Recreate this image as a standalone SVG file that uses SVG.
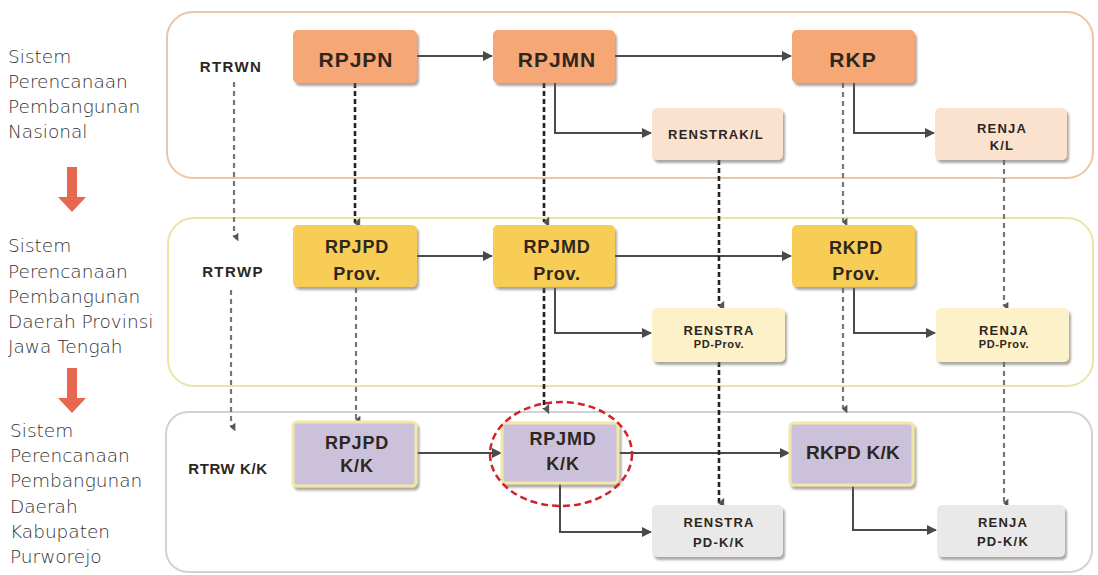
<svg xmlns="http://www.w3.org/2000/svg" width="1098" height="575" viewBox="0 0 1098 575">
<style>
  .lbl { font-family: "DejaVu Sans", Lato, sans-serif; font-weight: 200; font-size: 18.5px; fill: #333; }
  .panel { fill: none; stroke-width: 2; }
  .bx { font-family: "Liberation Sans", Arial, sans-serif; font-weight: bold; fill: #2e2620; text-anchor: middle; }
  .big { font-size: 21px; letter-spacing: 1px; }
  .mid { font-size: 18px; letter-spacing: 0.8px; }
  .sm { font-size: 13px; letter-spacing: 1.2px; }
  .xs { font-size: 11px; letter-spacing: 0.6px; }
  .side { font-size: 15px; letter-spacing: 1.4px; }
  .orange { fill: #F5A876; }
  .peach { fill: #FBE2CF; }
  .gold { fill: #F8CD55; }
  .cream { fill: #FCF1C8; }
  .lav { fill: #CCC1DA; stroke: #F1E8A8; stroke-width: 3; }
  .grey { fill: #E9E9EA; }
  .solid { fill: none; stroke: #4a4a4a; stroke-width: 2; marker-end: url(#tri); }
  .dashD { fill: none; stroke: #222; stroke-width: 2.6; stroke-dasharray: 5 3; marker-end: url(#chev); }
  .dashL { fill: none; stroke: #777; stroke-width: 2.2; stroke-dasharray: 5 4; marker-end: url(#chev); }
  .redarrow { fill: #E8674F; }
</style>
<defs>
  <marker id="tri" viewBox="0 0 10 10" refX="9" refY="5" markerWidth="5" markerHeight="5" orient="auto" markerUnits="strokeWidth">
    <path d="M0,0 L10,5 L0,10 Z" fill="#4a4a4a"/>
  </marker>
  <marker id="chev" viewBox="0 0 10 10" refX="5" refY="8" markerWidth="4" markerHeight="4" orient="auto" markerUnits="strokeWidth">
    <path d="M0,3 L10,3 L5,9 Z" fill="#555"/>
  </marker>
  <filter id="sh" x="-10%" y="-10%" width="125%" height="130%">
    <feDropShadow dx="2" dy="3" stdDeviation="1.2" flood-color="#6b5f55" flood-opacity="0.55"/>
  </filter>
</defs>
<rect width="1098" height="575" fill="#ffffff"/>

<!-- Panels -->
<g id="panels">
  <rect class="panel" x="167" y="12" width="926" height="166" rx="26" stroke="#EBC6A6"/>
  <rect class="panel" x="168" y="218" width="925" height="168" rx="26" stroke="#ECE3A6"/>
  <rect class="panel" x="166" y="412" width="926" height="160" rx="22" stroke="#D3D3D3"/>
</g>

<!-- Left labels and red arrows -->
<g id="label-nasional">
  <text class="lbl" x="8" y="63">Sistem</text>
  <text class="lbl" x="8" y="88">Perencanaan</text>
  <text class="lbl" x="8" y="113">Pembangunan</text>
  <text class="lbl" x="8" y="138">Nasional</text>
</g>
<g id="label-provinsi">
  <text class="lbl" x="8" y="252">Sistem</text>
  <text class="lbl" x="8" y="278">Perencanaan</text>
  <text class="lbl" x="8" y="303">Pembangunan</text>
  <text class="lbl" x="8" y="328">Daerah Provinsi</text>
  <text class="lbl" x="8" y="353">Jawa Tengah</text>
</g>
<g id="label-kabupaten">
  <text class="lbl" x="10" y="437">Sistem</text>
  <text class="lbl" x="10" y="462">Perencanaan</text>
  <text class="lbl" x="10" y="487">Pembangunan</text>
  <text class="lbl" x="10" y="513">Daerah</text>
  <text class="lbl" x="10" y="538">Kabupaten</text>
  <text class="lbl" x="10" y="563">Purworejo</text>
</g>
<g id="red-arrows">
  <path class="redarrow" d="M67,167 H77 V197 H86 L72,212 L58,197 H67 Z"/>
  <path class="redarrow" d="M67,368 H77 V398 H86 L72,413 L58,398 H67 Z"/>
</g>

<!-- Connectors -->
<g id="connectors">
  <path class="solid" d="M417,56 H492"/>
  <path class="solid" d="M615,56 H791"/>
  <path class="solid" d="M555,83 V133 H651"/>
  <path class="solid" d="M854,83 V133 H934"/>
  <path class="solid" d="M417,256 H492"/>
  <path class="solid" d="M615,256 H791"/>
  <path class="solid" d="M555,288 V333 H651"/>
  <path class="solid" d="M854,288 V333 H935"/>
  <path class="solid" d="M416,453 H501"/>
  <path class="solid" d="M618,453 H789"/>
  <path class="solid" d="M560,483 V532 H651"/>
  <path class="solid" d="M853,485 V530 H936"/>

  <path class="dashL" d="M234,82 V237"/>
  <path class="dashL" d="M231,290 V427"/>
  <path class="dashD" d="M355,83 V223"/>
  <path class="dashL" d="M356,288 V420"/>
  <path class="dashD" d="M544,83 V222"/>
  <path class="dashD" d="M544,288 V409"/>
  <path class="dashL" d="M843,83 V222"/>
  <path class="dashL" d="M843,288 V409"/>
  <path class="dashD" d="M719,160 V306"/>
  <path class="dashD" d="M719,362 V503"/>
  <path class="dashL" d="M1004,160 V306"/>
  <path class="dashL" d="M1004,362 V503"/>
</g>

<!-- National level -->
<g id="rtrwn"><text class="bx side" x="231" y="72">RTRWN</text></g>
<g id="rpjpn">
  <rect class="orange" x="293" y="30" width="124" height="53" rx="5" filter="url(#sh)"/>
  <text class="bx big" x="356" y="67">RPJPN</text>
</g>
<g id="rpjmn">
  <rect class="orange" x="493" y="30" width="122" height="53" rx="5" filter="url(#sh)"/>
  <text class="bx big" x="557" y="67">RPJMN</text>
</g>
<g id="rkp">
  <rect class="orange" x="792" y="30" width="123" height="53" rx="5" filter="url(#sh)"/>
  <text class="bx big" x="853" y="67">RKP</text>
</g>
<g id="renstra-kl">
  <rect class="peach" x="652" y="108" width="131" height="52" rx="5" filter="url(#sh)"/>
  <text class="bx sm" x="716" y="139">RENSTRAK/L</text>
</g>
<g id="renja-kl">
  <rect class="peach" x="935" y="108" width="132" height="52" rx="5" filter="url(#sh)"/>
  <text class="bx sm" x="1002" y="133">RENJA</text>
  <text class="bx sm" x="1002" y="150">K/L</text>
</g>

<!-- Province level -->
<g id="rtrwp"><text class="bx side" x="233" y="277">RTRWP</text></g>
<g id="rpjpd-prov">
  <rect class="gold" x="293" y="225" width="124" height="62" rx="5" filter="url(#sh)"/>
  <text class="bx mid" x="357" y="253">RPJPD</text>
  <text class="bx mid" x="357" y="280">Prov.</text>
</g>
<g id="rpjmd-prov">
  <rect class="gold" x="493" y="225" width="122" height="62" rx="5" filter="url(#sh)"/>
  <text class="bx mid" x="557" y="253">RPJMD</text>
  <text class="bx mid" x="557" y="280">Prov.</text>
</g>
<g id="rkpd-prov">
  <rect class="gold" x="792" y="225" width="123" height="62" rx="5" filter="url(#sh)"/>
  <text class="bx mid" x="856" y="254">RKPD</text>
  <text class="bx mid" x="856" y="280">Prov.</text>
</g>
<g id="renstra-pd-prov">
  <rect class="cream" x="652" y="308" width="133" height="54" rx="5" filter="url(#sh)"/>
  <text class="bx sm" x="719" y="335">RENSTRA</text>
  <text class="bx xs" x="719" y="348">PD-Prov.</text>
</g>
<g id="renja-pd-prov">
  <rect class="cream" x="936" y="308" width="133" height="54" rx="5" filter="url(#sh)"/>
  <text class="bx sm" x="1004" y="335">RENJA</text>
  <text class="bx xs" x="1004" y="348">PD-Prov.</text>
</g>

<!-- Regency level -->
<g id="rtrw-kk"><text class="bx side" x="228" y="474" style="letter-spacing:0.6px">RTRW K/K</text></g>
<g id="rpjpd-kk">
  <rect class="lav" x="293" y="422" width="123" height="64" rx="4" filter="url(#sh)"/>
  <text class="bx mid" x="357" y="449">RPJPD</text>
  <text class="bx mid" x="357" y="472">K/K</text>
</g>
<g id="rpjmd-kk">
  <rect class="lav" x="502" y="423" width="116" height="60" rx="4" filter="url(#sh)"/>
  <text class="bx mid" x="563" y="445">RPJMD</text>
  <text class="bx mid" x="563" y="470">K/K</text>
</g>
<g id="rkpd-kk">
  <rect class="lav" x="790" y="423" width="123" height="62" rx="4" filter="url(#sh)"/>
  <text class="bx mid" x="853" y="459" style="font-size:19px;letter-spacing:0.3px">RKPD K/K</text>
</g>
<g id="renstra-pd-kk">
  <rect class="grey" x="652" y="505" width="131" height="52" rx="5" filter="url(#sh)"/>
  <text class="bx sm" x="719" y="527">RENSTRA</text>
  <text class="bx sm" x="719" y="547">PD-K/K</text>
</g>
<g id="renja-pd-kk">
  <rect class="grey" x="937" y="505" width="128" height="52" rx="5" filter="url(#sh)"/>
  <text class="bx sm" x="1003" y="527">RENJA</text>
  <text class="bx sm" x="1003" y="546">PD-K/K</text>
</g>

<!-- Highlight -->
<g id="highlight">
  <ellipse cx="561" cy="454" rx="71" ry="52" fill="none" stroke="#D2232A" stroke-width="2.5" stroke-dasharray="7 4"/>
</g>
</svg>
